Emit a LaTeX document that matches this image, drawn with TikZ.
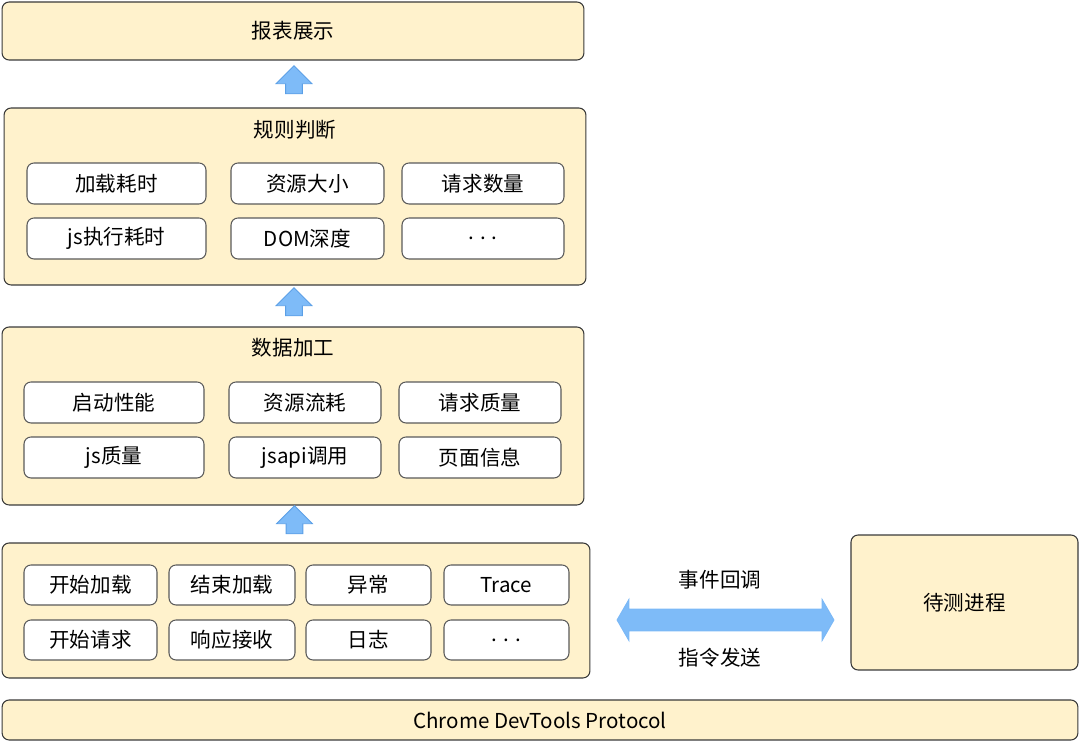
\documentclass[tikz,border=0pt]{standalone}
\usepackage{fontspec}
\setmainfont{Noto Sans CJK SC}
\usepackage{tikz}
\usetikzlibrary{arrows.meta,calc,positioning,shapes.arrows}
\definecolor{panelFill}{HTML}{FFF2CC}
\definecolor{panelDraw}{HTML}{3A3A3A}
\definecolor{itemDraw}{HTML}{5A5A5A}
\definecolor{arrowFill}{HTML}{7EBBF8}
\definecolor{arrowDraw}{HTML}{5B9FE6}
\tikzset{
  perfPanel/.style={draw=panelDraw, fill=panelFill, rounded corners=4pt, line width=0.6pt, inner sep=0pt, align=center},
  perfItem/.style={draw=itemDraw, fill=white, rounded corners=4pt, line width=0.6pt, inner sep=0pt, minimum height=0.82cm},
  perfTitle/.style={inner sep=0pt},
  perfUpArrow/.style={single arrow, draw=arrowDraw, fill=arrowFill, line width=0.5pt, shape border rotate=90, single arrow tip angle=90, single arrow head extend=0.19cm, minimum height=0.56cm, minimum width=0.7cm, inner sep=0.16cm},
  perfLinkArrow/.style={double arrow, draw=arrowFill!90!arrowDraw, fill=arrowFill, line width=0.5pt, double arrow tip angle=120, double arrow head extend=0.19cm, minimum height=4.34cm, minimum width=0.8cm, inner sep=0.21cm}
}

\begin{document}
\begin{tikzpicture}[
        x=0.02cm, y=-0.02cm,
        font=\fontsize{11.7}{14}\selectfont,
        label/.style={inner sep=0pt}
      ]
      \useasboundingbox (0,0) rectangle (1080,742);

      % top layer
      \node[perfPanel, minimum width=11.64cm, minimum height=1.16cm] (report) at (293,31) {报表展示};

      % rule layer
      \node[perfPanel, minimum width=11.64cm, minimum height=3.54cm] (rules) at (295,196.5) {};
      \node[perfTitle] (rulesTitle) at (295,130) {规则判断};
      \node[perfItem, minimum width=3.58cm] (loadCost) at (116.5,183.5) {加载耗时};
      \node[perfItem, minimum width=3.06cm] (resSize) at (307.5,183.5) {资源大小};
      \node[perfItem, minimum width=3.24cm] (reqCount) at (483,183.5) {请求数量};
      \node[perfItem, minimum width=3.58cm] (jsCost) at (116.5,238.5) {js执行耗时};
      \node[perfItem, minimum width=3.06cm] (domDepth) at (307.5,238.5) {DOM深度};
      \node[perfItem, minimum width=3.24cm] (ruleMore) at (483,238.5) {. . .};
      \node[perfUpArrow] (upReport) at ($(report.south)!0.5!(rules.north)$) {};

      % processing layer
      \node[perfPanel, minimum width=11.64cm, minimum height=3.56cm] (process) at (293,416) {};
      \node[perfTitle] (processTitle) at (293,348) {数据加工};
      \node[perfItem, minimum width=3.6cm] (startPerf) at (114,402.5) {启动性能};
      \node[perfItem, minimum width=3.04cm] (resFlow) at (305,402.5) {资源流耗};
      \node[perfItem, minimum width=3.24cm] (reqQuality) at (480,402.5) {请求质量};
      \node[perfItem, minimum width=3.6cm] (jsQuality) at (114,457.5) {js质量};
      \node[perfItem, minimum width=3.04cm] (jsapiCall) at (305,457.5) {jsapi调用};
      \node[perfItem, minimum width=3.24cm] (pageInfo) at (480,457.5) {页面信息};
      \node[perfUpArrow] (upRules) at ($(rules.south)!0.5!(process.north)$) {};

      % event layer
      \node[perfPanel, minimum width=11.76cm, minimum height=2.7cm] (events) at (296,610.5) {};
      \node[perfItem, minimum width=2.66cm, minimum height=0.8cm] (loadStart) at (90.5,585) {开始加载};
      \node[perfItem, minimum width=2.52cm, minimum height=0.8cm] (loadEnd) at (232,585) {结束加载};
      \node[perfItem, minimum width=2.5cm, minimum height=0.8cm] (exception) at (368.5,585) {异常};
      \node[perfItem, minimum width=2.5cm, minimum height=0.8cm] (trace) at (506.5,585) {Trace};
      \node[perfItem, minimum width=2.66cm, minimum height=0.8cm] (reqStart) at (90.5,640) {开始请求};
      \node[perfItem, minimum width=2.52cm, minimum height=0.8cm] (respRecv) at (232,640) {响应接收};
      \node[perfItem, minimum width=2.5cm, minimum height=0.8cm] (logEntry) at (368.5,640) {日志};
      \node[perfItem, minimum width=2.5cm, minimum height=0.8cm] (eventMore) at (506.5,640) {. . .};
      \node[perfUpArrow] (upProcess) at ($(process.south)!0.5!(events.north)$) {};

      % target process
      \node[perfPanel, minimum width=4.54cm, minimum height=2.7cm] (target) at (964.5,602.5) {待测进程};
      \node[perfLinkArrow] (link) at (725.5,620) {};
      \node[label] (callbackLabel) at (720,580) {事件回调};
      \node[label] (commandLabel) at (720,658) {指令发送};

      % protocol
      \node[perfPanel, minimum width=21.52cm, minimum height=0.8cm] (protocol) at (540,720) {Chrome DevTools Protocol};
    \end{tikzpicture}
\end{document}
